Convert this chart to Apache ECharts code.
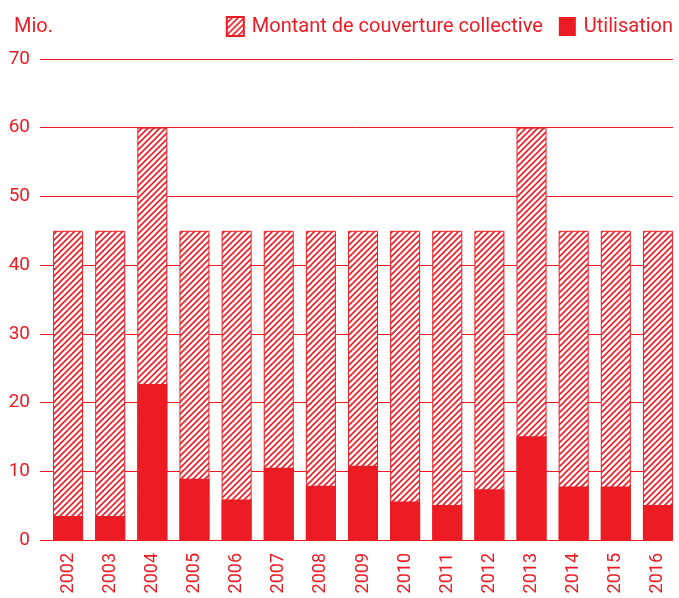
<!DOCTYPE html>
<html>
<head>
<meta charset="utf-8">
<script src="https://cdn.jsdelivr.net/npm/echarts@6/dist/echarts.min.js"></script>
<style>
  html, body { margin: 0; padding: 0; background: #fff; }
  #chart { width: 679px; height: 598px; }
</style>
</head>
<body>
<div id="chart"></div>
<script>
const years = ['2002', '2003', '2004', '2005', '2006', '2007', '2008', '2009',
  '2010', '2011', '2012', '2013', '2014', '2015', '2016']
const montant = [45, 45, 60, 45, 45, 45, 45, 45, 45, 45, 45, 60, 45, 45, 45]
const utilisation = [3.5, 3.5, 22.7, 8.9, 5.9, 10.5, 7.9, 10.8, 5.6, 5.1, 7.4, 15.1, 7.8, 7.8, 5.1]

const red = '#ed1c24'
const font = 'Roboto'

// hatch pattern for the "Montant" bars
const hatch = document.createElement('canvas')
hatch.width = 6
hatch.height = 6
const ctx = hatch.getContext('2d')
ctx.fillStyle = '#fff'
ctx.fillRect(0, 0, 6, 6)
ctx.strokeStyle = red
ctx.lineWidth = 1.6
ctx.beginPath()
ctx.moveTo(0, 6); ctx.lineTo(6, 0)
ctx.moveTo(-1, 1); ctx.lineTo(1, -1)
ctx.moveTo(5, 7); ctx.lineTo(7, 5)
ctx.stroke()

const chart = echarts.init(document.getElementById('chart'))
chart.setOption({
  animation: false,
  title: {
    text: 'Mio.',
    left: 9,
    top: 12,
    textStyle: { color: red, fontFamily: font, fontSize: 20, fontWeight: 'normal' }
  },
  legend: {
    right: 1,
    top: 11,
    icon: 'rect',
    itemWidth: 17,
    itemHeight: 19,
    itemGap: 16,
    textStyle: { color: red, fontFamily: font, fontSize: 20, padding: [0, 0, 0, 3] },
    data: ['Montant de couverture collective', 'Utilisation']
  },
  grid: [
    { left: 40, right: 6, top: 59, bottom: 58 },
    { left: 47, right: 0, top: 59, bottom: 58 }
  ],
  xAxis: [
    { gridIndex: 0, type: 'category', data: years, show: false },
    {
      gridIndex: 1,
      type: 'category',
      data: years,
      axisLine: { show: false },
      axisTick: { show: false },
      axisLabel: {
        rotate: 90,
        margin: 13,
        color: red,
        fontFamily: font,
        fontSize: 18
      }
    }
  ],
  yAxis: [
    {
      gridIndex: 0,
      type: 'value',
      min: 0,
      max: 70,
      interval: 10,
      axisLine: { show: false },
      axisTick: { show: false },
      axisLabel: { color: red, fontFamily: font, fontSize: 19, margin: 10 },
      splitLine: { lineStyle: { color: red, width: 1 } }
    },
    { gridIndex: 1, type: 'value', min: 0, max: 70, interval: 10, show: false }
  ],
  series: [
    {
      name: 'Montant de couverture collective',
      type: 'bar',
      xAxisIndex: 1,
      yAxisIndex: 1,
      barWidth: 30,
      barGap: '-100%',
      data: montant,
      itemStyle: {
        color: { image: hatch, repeat: 'repeat' },
        borderColor: red,
        borderWidth: 1
      }
    },
    {
      name: 'Utilisation',
      type: 'bar',
      xAxisIndex: 1,
      yAxisIndex: 1,
      barWidth: 30,
      barGap: '-100%',
      data: utilisation,
      itemStyle: { color: red }
    }
  ]
})
</script>
</body>
</html>
